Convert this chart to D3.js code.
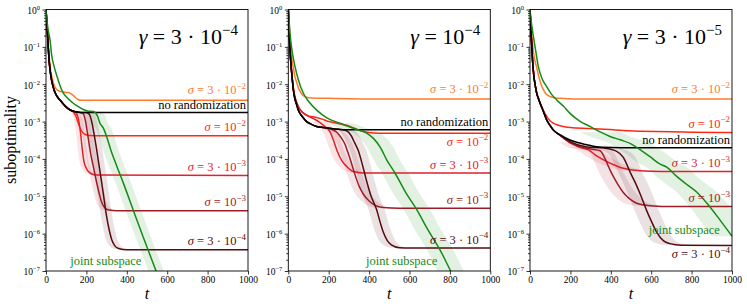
<!DOCTYPE html>
<html>
<head>
<meta charset="utf-8">
<script src="https://cdn.jsdelivr.net/npm/d3@7"></script>
<style>
body { margin: 0; background: #fff; }
svg { display: block; }
</style>
</head>
<body>
<svg id="chart" width="747" height="308"></svg>
<script>
// x ticks / y ticks
var xTicks = [0, 200, 400, 600, 800, 1000]
var yTicks = [1, 1e-1, 1e-2, 1e-3, 1e-4, 1e-5, 1e-6, 1e-7]
var yTickExp = ["0", "\u22121", "\u22122", "\u22123", "\u22124", "\u22125", "\u22126", "\u22127"]

// panel titles: gamma = coef 10^exp
var gammaCoef = ["3 \u00b7 ", "", "3 \u00b7 "]
var gammaExp = ["\u22124", "\u22124", "\u22125"]

// series keys, labels, colours
var seriesKeys = ["s3e2", "s1e2", "s3e3", "s1e3", "s3e4", "none", "joint"]
var sigmaCoef = { s3e2: "3 \u00b7 ", s1e2: "", s3e3: "3 \u00b7 ", s1e3: "", s3e4: "3 \u00b7 " }
var sigmaExp = { s3e2: "\u22122", s1e2: "\u22122", s3e3: "\u22123", s1e3: "\u22123", s3e4: "\u22124" }
var colors = { s3e2: "#ff7b2c", s1e2: "#ff2814", s3e3: "#e0202c", s1e3: "#9e1c26", s3e4: "#560b0d", none: "#000000", joint: "#168a16" }

// ---- panel 1 : gamma = 3e-4   ([t, suboptimality])
var p1_s3e2 = [[0,1],[4,0.5],[8,0.25],[12,0.1],[16,0.05],[22,0.025],[30,0.015],[40,0.0095],[50,0.0075],[65,0.0066],[85,0.0062],[105,0.006],[120,0.0057],[132,0.0052],[145,0.0044],[158,0.0039],[175,0.0037],[1000,0.0037]]
var p1_s1e2 = [[0,1],[4,0.45],[8,0.2],[12,0.08],[17,0.035],[22,0.02],[28,0.0126],[40,0.007],[55,0.0047],[70,0.0037],[85,0.003],[102,0.0024],[120,0.00204],[135,0.0018],[148,0.0014],[160,0.0009],[170,0.00065],[180,0.00052],[195,0.00045],[215,0.000425],[260,0.00042],[1000,0.00042]]
var p1_s3e3 = [[0,1],[4,0.45],[8,0.2],[12,0.08],[17,0.035],[22,0.02],[28,0.0126],[40,0.007],[55,0.0047],[70,0.0037],[85,0.003],[102,0.0024],[120,0.00204],[140,0.00186],[150,0.0017],[160,0.0012],[170,0.00055],[180,0.000174],[188,0.000085],[197,0.00006],[210,0.000046],[225,0.00004],[250,0.000037],[1000,0.000036]]
var p1_s1e3 = [[0,1],[4,0.45],[8,0.2],[12,0.08],[17,0.035],[22,0.02],[28,0.0126],[40,0.007],[55,0.0047],[70,0.0037],[85,0.003],[102,0.0024],[120,0.00204],[140,0.00186],[170,0.00176],[185,0.0016],[195,0.00105],[205,0.0005],[213,0.00026],[220,0.00015],[235,0.00006],[251,0.000023],[265,0.000011],[276,0.0000068],[290,0.000005],[310,0.0000043],[350,0.0000041],[1000,0.0000041]]
var p1_s3e4 = [[0,1],[4,0.45],[8,0.2],[12,0.08],[17,0.035],[22,0.02],[28,0.0126],[40,0.007],[55,0.0047],[70,0.0037],[85,0.003],[102,0.0024],[120,0.00204],[140,0.00186],[170,0.00176],[200,0.00174],[215,0.00155],[228,0.0009],[240,0.0004],[251,0.000174],[263,0.000065],[276,0.000023],[288,0.000008],[300,0.0000029],[313,0.00000125],[325,0.0000007],[340,0.00000048],[360,0.0000004],[400,0.00000037],[1000,0.00000037]]
var p1_none = [[0,1],[4,0.45],[8,0.2],[12,0.08],[17,0.035],[22,0.02],[28,0.0126],[40,0.007],[55,0.0047],[70,0.0037],[85,0.003],[102,0.0024],[120,0.00204],[140,0.00186],[170,0.00176],[220,0.00174],[1000,0.00174]]
var p1_joint = [[0,1],[5,0.5],[10,0.3],[20,0.15],[28,0.06],[40,0.03],[55,0.016],[70,0.009],[86,0.0058],[110,0.0041],[135,0.0031],[160,0.0025],[185,0.0021],[210,0.0019],[235,0.00185],[255,0.0014],[267,0.00091],[285,0.00065],[300,0.0004],[320,0.00018],[350,0.000065],[383,0.0000225],[433,0.0000041],[483,0.00000076],[545,0.0000001],[570,0.000000044]]

// ---- panel 2 : gamma = 1e-4
var p2_s3e2 = [[0,1],[4,0.45],[8,0.2],[12,0.1],[17,0.05],[25,0.027],[33,0.016],[42,0.011],[52,0.0075],[62,0.006],[74,0.0049],[90,0.0045],[120,0.0043],[200,0.0042],[300,0.0041],[500,0.004],[1000,0.004]]
var p2_s1e2 = [[0,1],[3,0.4],[6,0.15],[10,0.06],[14,0.03],[19,0.015],[25,0.008],[32,0.0048],[40,0.0034],[50,0.0025],[65,0.0019],[80,0.0016],[100,0.0014],[124,0.00135],[160,0.0012],[200,0.001],[240,0.0009],[289,0.0008],[330,0.00065],[371,0.00054],[420,0.000495],[480,0.00049],[1000,0.00049]]
var p2_s3e3 = [[0,1],[3,0.4],[6,0.15],[10,0.06],[14,0.03],[19,0.015],[25,0.008],[32,0.0048],[40,0.0034],[50,0.0025],[65,0.0019],[80,0.0016],[100,0.0014],[124,0.0012],[150,0.001],[180,0.00075],[206,0.00054],[225,0.0003],[240,0.000174],[265,0.00009],[289,0.000063],[322,0.000046],[371,0.000042],[1000,0.000042]]
var p2_s1e3 = [[0,1],[3,0.4],[6,0.15],[10,0.06],[14,0.03],[19,0.015],[25,0.007],[32,0.0042],[40,0.003],[50,0.002],[70,0.00135],[91,0.001],[115,0.00084],[140,0.00074],[175,0.00069],[210,0.00063],[240,0.00052],[260,0.00038],[280,0.00025],[295,0.00015],[310,0.000085],[330,0.000038],[350,0.000019],[371,0.0000115],[400,0.0000075],[430,0.0000057],[470,0.000005],[550,0.0000048],[1000,0.0000048]]
var p2_s3e4 = [[0,1],[3,0.4],[6,0.15],[10,0.06],[14,0.03],[19,0.015],[25,0.007],[32,0.0042],[40,0.003],[50,0.002],[70,0.00135],[91,0.001],[115,0.00084],[140,0.00074],[175,0.00069],[206,0.00066],[250,0.00062],[290,0.00056],[310,0.00043],[330,0.00026],[346,0.00017],[370,0.00006],[390,0.000023],[410,0.00001],[437,0.0000044],[455,0.000002],[470,0.0000011],[490,0.00000065],[510,0.0000005],[550,0.00000042],[600,0.00000041],[1000,0.00000041]]
var p2_none = [[0,1],[3,0.4],[6,0.15],[10,0.06],[14,0.03],[19,0.015],[25,0.007],[32,0.0042],[40,0.003],[50,0.002],[70,0.00135],[91,0.001],[115,0.00084],[140,0.00074],[175,0.00069],[206,0.00066],[250,0.00062],[290,0.0006],[1000,0.0006]]
var p2_joint = [[0,1],[4,0.5],[8,0.25],[14,0.12],[20,0.07],[33,0.03],[50,0.013],[74,0.0058],[100,0.0035],[142,0.002],[191,0.00126],[256,0.0009],[322,0.00066],[388,0.00049],[420,0.00036],[454,0.00021],[487,0.000095],[528,0.000042],[580,0.000013],[636,0.0000044],[690,0.0000013],[751,0.00000037],[804,0.0000001],[830,0.000000055]]

// ---- panel 3 : gamma = 3e-5
var p3_s3e2 = [[0,1],[4,0.5],[8,0.23],[14,0.1],[22,0.05],[33,0.028],[45,0.015],[55,0.0098],[66,0.0072],[80,0.0055],[99,0.0047],[125,0.0043],[150,0.0042],[215,0.00405],[400,0.004],[1000,0.004]]
var p3_s1e2 = [[0,1],[3,0.45],[6,0.2],[10,0.08],[13,0.04],[16,0.025],[20,0.015],[25,0.01],[33,0.0058],[42,0.0042],[50,0.0032],[66,0.002],[82,0.0014],[99,0.00105],[115,0.00091],[140,0.0008],[165,0.00074],[200,0.00069],[297,0.00065],[462,0.00058],[627,0.00054],[800,0.00052],[1000,0.00051]]
var p3_s3e3 = [[0,1],[3,0.45],[6,0.2],[10,0.08],[13,0.04],[16,0.025],[20,0.015],[25,0.01],[33,0.0058],[42,0.0041],[50,0.0031],[66,0.0019],[82,0.00112],[100,0.00078],[115,0.0006],[150,0.00043],[198,0.00028],[240,0.00021],[290,0.000174],[330,0.00012],[380,0.000085],[420,0.000068],[462,0.000056],[545,0.000048],[650,0.000046],[1000,0.000046]]
var p3_s1e3 = [[0,1],[3,0.45],[6,0.2],[10,0.08],[13,0.04],[16,0.025],[20,0.015],[25,0.01],[33,0.0058],[42,0.0041],[50,0.0031],[66,0.0019],[82,0.00112],[100,0.00078],[115,0.0006],[150,0.00042],[198,0.00027],[250,0.00021],[300,0.000185],[347,0.000165],[372,0.0001],[396,0.000051],[415,0.000032],[437,0.00002],[460,0.000013],[479,0.00001],[500,0.000008],[528,0.0000065],[594,0.0000056],[700,0.0000053],[1000,0.0000053]]
var p3_s3e4 = [[0,1],[3,0.45],[6,0.2],[10,0.08],[13,0.04],[16,0.025],[20,0.015],[25,0.01],[33,0.0058],[42,0.0041],[50,0.0031],[66,0.0019],[82,0.00112],[100,0.00078],[115,0.0006],[150,0.00043],[198,0.00029],[281,0.00021],[363,0.000195],[429,0.00016],[462,0.00011],[480,0.00007],[495,0.000045],[520,0.000024],[550,0.00001],[577,0.0000042],[600,0.0000022],[627,0.0000011],[660,0.00000065],[693,0.00000054],[750,0.00000049],[1000,0.00000048]]
var p3_none = [[0,1],[3,0.45],[6,0.2],[10,0.08],[13,0.04],[16,0.025],[20,0.015],[25,0.01],[33,0.0058],[42,0.0041],[50,0.0031],[66,0.0019],[82,0.00112],[100,0.00078],[115,0.0006],[150,0.00044],[198,0.00032],[240,0.00027],[281,0.00024],[320,0.000215],[363,0.000204],[450,0.0002],[1000,0.0002]]
var p3_joint = [[0,1],[4,0.6],[8,0.4],[16,0.2],[28,0.08],[41,0.03],[60,0.014],[82,0.0087],[105,0.0055],[132,0.0038],[165,0.0026],[198,0.00166],[250,0.001],[297,0.00074],[350,0.00052],[396,0.0004],[450,0.00032],[495,0.00026],[550,0.00017],[594,0.000115],[640,0.000075],[677,0.00006],[726,0.000034],[775,0.000021],[825,0.000013],[875,0.0000066],[941,0.0000023],[1000,0.00000085]]

// spread of the shaded bands (in t) and where they start
var bandStart = [{ s3e3: 140, s1e3: 165, s3e4: 195, joint: 235 }, { s3e3: 150, s1e3: 200, s3e4: 240, joint: 250 }, { s3e3: 190, s1e3: 250, s3e4: 330, joint: 330 }]
var bandSpread = [{ s3e3: 22, s1e3: 26, s3e4: 28, joint: 38 }, { s3e3: 35, s1e3: 38, s3e4: 40, joint: 65 }, { s3e3: 55, s1e3: 60, s3e4: 60, joint: 100 }]

var panels = [
    { s3e2: p1_s3e2, s1e2: p1_s1e2, s3e3: p1_s3e3, s1e3: p1_s1e3, s3e4: p1_s3e4, none: p1_none, joint: p1_joint },
    { s3e2: p2_s3e2, s1e2: p2_s1e2, s3e3: p2_s3e3, s1e3: p2_s1e3, s3e4: p2_s3e4, none: p2_none, joint: p2_joint },
    { s3e2: p3_s3e2, s1e2: p3_s1e2, s3e3: p3_s3e3, s1e3: p3_s1e3, s3e4: p3_s3e4, none: p3_none, joint: p3_joint }
]

// layout
var FONT = "'Liberation Serif', 'DejaVu Serif', serif"
var panelLeft = [46, 288.3, 530]
var plotW = 202
var plotTop = 9.5
var plotBottom = 271
var belowLabels = [[], ["s1e2"], ["s3e4"]]
var labelGap = { s3e2: -6, none: -3.5 }
var jointLabelAt = [{ t: 120, v: 1.45e-7, anchor: "start" }, { t: 385, v: 1.45e-7, anchor: "start" }, { t: 940, v: 1.0e-6, anchor: "end" }]

var svg = d3.select("#chart")
var defs = svg.append("defs")

function addSup(text, main, sup, supSize, dy) {
    text.append("tspan").text(main)
    text.append("tspan").attr("font-size", supSize).attr("dy", dy).text(sup)
}

panels.forEach(function (data, i) {
    var x0 = panelLeft[i]
    var x = d3.scaleLinear().domain([0, 1000]).range([x0, x0 + plotW])
    var y = d3.scaleLog().domain([1e-7, 1]).range([plotBottom, plotTop])

    var g = svg.append("g")

    defs.append("clipPath").attr("id", "clip" + i)
        .append("rect").attr("x", x0).attr("y", plotTop).attr("width", plotW).attr("height", plotBottom - plotTop)

    var plot = g.append("g").attr("clip-path", "url(#clip" + i + ")")

    // bands
    Object.keys(bandSpread[i]).forEach(function (k) {
        var s = bandSpread[i][k]
        var pts = data[k].filter(function (d) { return d[0] >= bandStart[i][k] })
        var area = d3.area()
            .x0(function (d) { return x(d[0] - s) })
            .x1(function (d) { return x(d[0] + s) })
            .y(function (d) { return y(d[1]) })
            .curve(d3.curveMonotoneX)
        plot.append("path").attr("d", area(pts))
            .attr("fill", colors[k]).attr("fill-opacity", 0.12)
    })

    var line = d3.line()
        .x(function (d) { return x(d[0]) })
        .y(function (d) { return y(d[1]) })
        .curve(d3.curveMonotoneX)

    seriesKeys.forEach(function (k) {
        plot.append("path").attr("d", line(data[k]))
            .attr("fill", "none").attr("stroke", colors[k]).attr("stroke-width", 1.5)
    })

    // axes
    var yAxis = d3.axisLeft(y).tickValues(yTicks).tickSize(3.5).tickPadding(2.5).tickFormat("")
    var ga = g.append("g").attr("transform", "translate(" + x0 + ",0)").call(yAxis)
    ga.select(".domain").remove()
    ga.selectAll(".tick").each(function (d, j) {
        var t = d3.select(this).append("text")
            .attr("x", -6).attr("dy", "0.4em").attr("text-anchor", "end")
            .attr("font-size", 9.5).attr("fill", "#000")
        addSup(t, "10", yTickExp[j], 6.5, -4)
    })
    var minor = y.ticks().filter(function (v) { return Math.abs(Math.log10(v) - Math.round(Math.log10(v))) > 1e-6 })
    var gm = g.append("g").attr("transform", "translate(" + x0 + ",0)")
        .call(d3.axisLeft(y).tickValues(minor).tickSize(2).tickFormat(""))
    gm.select(".domain").remove()

    var xAxis = d3.axisBottom(x).tickValues(xTicks).tickSize(3.5).tickPadding(2).tickFormat(d3.format("d"))
    var gx = g.append("g").attr("transform", "translate(0," + plotBottom + ")").call(xAxis)
    gx.select(".domain").remove()
    gx.selectAll("text").attr("font-size", 9.5)

    g.selectAll(".tick line").attr("stroke-width", 0.8)

    g.append("rect").attr("x", x0).attr("y", plotTop).attr("width", plotW).attr("height", plotBottom - plotTop)
        .attr("fill", "none").attr("stroke", "#000").attr("stroke-width", 0.9)

    // x label
    g.append("text").attr("x", x0 + plotW / 2).attr("y", 299).attr("text-anchor", "middle")
        .attr("font-size", 16).attr("font-style", "italic").text("t")

    // title
    var title = g.append("text").attr("x", x0 + plotW - 10).attr("y", 44).attr("text-anchor", "end").attr("font-size", 22)
    title.append("tspan").attr("font-style", "italic").text("\u03b3")
    addSup(title, " = " + gammaCoef[i] + "10", gammaExp[i], 15, -9)

    // curve labels
    seriesKeys.forEach(function (k) {
        if (k == "joint") return
        var last = data[k][data[k].length - 1][1]
        var below = belowLabels[i].indexOf(k) >= 0
        var gap = below ? 12.5 : (labelGap[k] !== undefined ? labelGap[k] : -4.5)
        var lab = g.append("text").attr("x", x0 + plotW - 2)
            .attr("y", y(last) + gap)
            .attr("text-anchor", "end").attr("font-size", 12.5).attr("fill", colors[k])
        if (k == "none") {
            lab.text("no randomization")
        } else {
            lab.append("tspan").attr("font-style", "italic").text("\u03c3")
            addSup(lab, " = " + sigmaCoef[k] + "10", sigmaExp[k], 9, -5.5)
        }
    })
    var jl = jointLabelAt[i]
    g.append("text").attr("x", x(jl.t)).attr("y", y(jl.v)).attr("text-anchor", jl.anchor)
        .attr("font-size", 12.5).attr("fill", colors.joint).text("joint subspace")
})

svg.append("text").attr("transform", "translate(16,140) rotate(-90)").attr("text-anchor", "middle")
    .attr("font-size", 16).text("suboptimality")

// same serif face for every text, axis groups included
svg.selectAll("g").attr("font-family", FONT)
svg.selectAll("text").attr("font-family", FONT)
</script>
</body>
</html>
